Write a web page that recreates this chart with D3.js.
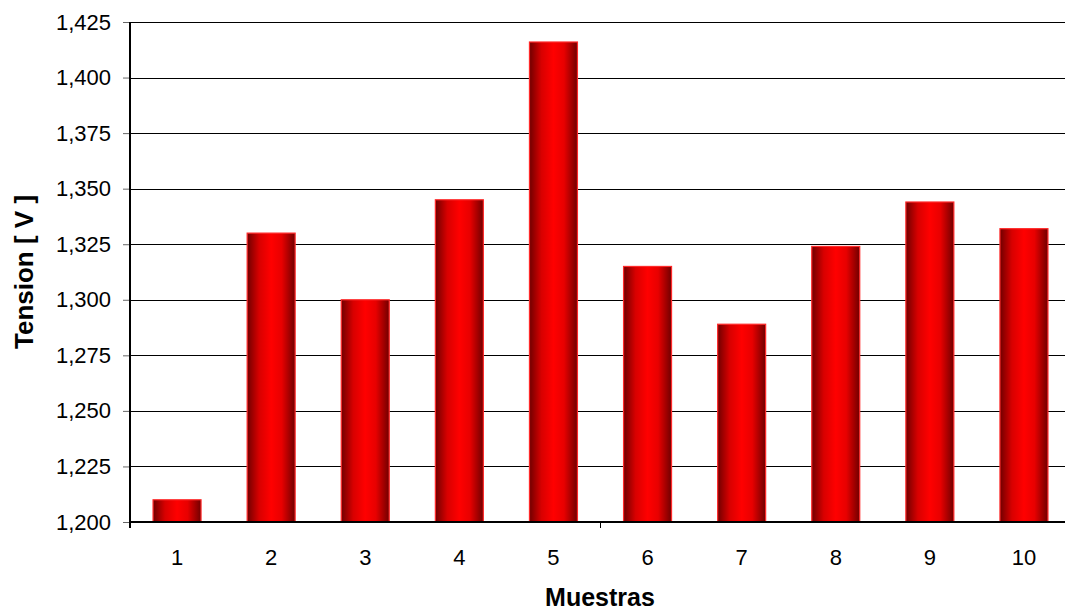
<!DOCTYPE html>
<html>
<head>
	<meta charset="utf-8">
	<title>index</title>
	<script src="https://d3js.org/d3.v7.min.js" charset="utf-8"></script>
	<style>
		body { margin:0; background:#fff; }
		svg { display:block; font-family:"Liberation Sans", Arial, sans-serif; }
	</style>
</head>
<body>
<script>
	var muestras = ["1","2","3","4","5","6","7","8","9","10"];
	var tension = [1.210, 1.330, 1.300, 1.345, 1.416, 1.315, 1.289, 1.324, 1.344, 1.332];
	var yTicks = [1.200, 1.225, 1.250, 1.275, 1.300, 1.325, 1.350, 1.375, 1.400, 1.425];

	var W = 1065, H = 614;
	var pLeft = 130, pRight = 1071, pTop = 22, pBottom = 522;

	var svg = d3.select("body").append("svg").attr("width", W).attr("height", H);

	var x = d3.scaleBand().domain(muestras).range([pLeft, pRight])
		.paddingInner(0.49).paddingOuter(0.245);
	var y = d3.scaleLinear().domain([1.200, 1.425]).range([pBottom, pTop]);

	var fmt = function(v) { return d3.format(".3f")(v).replace(".", ","); };

	// bar gradient, dark edges bright middle
	var grad = svg.append("defs").append("linearGradient").attr("id", "barGrad")
		.attr("x1", "0%").attr("x2", "100%").attr("y1", "0%").attr("y2", "0%");
	grad.append("stop").attr("offset", "0%").attr("stop-color", "#700000");
	grad.append("stop").attr("offset", "25%").attr("stop-color", "#d80000");
	grad.append("stop").attr("offset", "50%").attr("stop-color", "#ff0000");
	grad.append("stop").attr("offset", "72%").attr("stop-color", "#e80000");
	grad.append("stop").attr("offset", "100%").attr("stop-color", "#700000");

	// gridlines
	svg.append("g").selectAll("line").data(yTicks).enter().append("line")
		.attr("x1", pLeft).attr("x2", pRight)
		.attr("y1", function(d) { return Math.round(y(d)) + 0.5; })
		.attr("y2", function(d) { return Math.round(y(d)) + 0.5; })
		.attr("stroke", "#000").attr("stroke-width", 1);

	// y ticks + labels
	var yAxis = svg.append("g").attr("transform", "translate(" + pLeft + ",0)")
		.call(d3.axisLeft(y).tickValues(yTicks).tickFormat(fmt).tickSize(7).tickPadding(12));
	yAxis.select(".domain").remove();
	yAxis.selectAll(".tick line").attr("stroke", "#666");
	yAxis.selectAll("text").attr("font-size", "22px").attr("fill", "#000")
		.attr("font-family", "Liberation Sans, Arial, sans-serif");

	// bars
	svg.append("g").selectAll("rect").data(tension).enter().append("rect")
		.attr("x", function(d, i) { return x(muestras[i]); })
		.attr("y", function(d) { return y(d); })
		.attr("width", x.bandwidth())
		.attr("height", function(d) { return pBottom - y(d); })
		.attr("fill", "url(#barGrad)")
		.attr("stroke", "#ff2a2a").attr("stroke-width", 1.2);

	// axes lines
	svg.append("line").attr("x1", pLeft).attr("x2", pLeft).attr("y1", pTop).attr("y2", pBottom + 6)
		.attr("stroke", "#000").attr("stroke-width", 2);
	svg.append("line").attr("x1", pLeft).attr("x2", pRight).attr("y1", pBottom).attr("y2", pBottom)
		.attr("stroke", "#000").attr("stroke-width", 2);

	// x ticks every 5 categories
	var step = x.step();
	svg.append("g").selectAll("line").data([5, 10]).enter().append("line")
		.attr("x1", function(d) { return pLeft + d * step; })
		.attr("x2", function(d) { return pLeft + d * step; })
		.attr("y1", pBottom).attr("y2", pBottom + 6)
		.attr("stroke", "#000").attr("stroke-width", 1);

	// x labels
	svg.append("g").selectAll("text").data(muestras).enter().append("text")
		.attr("x", function(d) { return x(d) + x.bandwidth() / 2; })
		.attr("y", 565)
		.attr("text-anchor", "middle")
		.attr("font-size", "22px")
		.text(function(d) { return d; });

	// axis titles
	svg.append("text").attr("x", 600).attr("y", 606)
		.attr("text-anchor", "middle").attr("font-size", "25px").attr("font-weight", "bold")
		.text("Muestras");
	svg.append("text").attr("transform", "translate(33,272) rotate(-90)")
		.attr("text-anchor", "middle").attr("font-size", "26px").attr("font-weight", "bold")
		.text("Tension [ V ]");
</script>
</body>
</html>
